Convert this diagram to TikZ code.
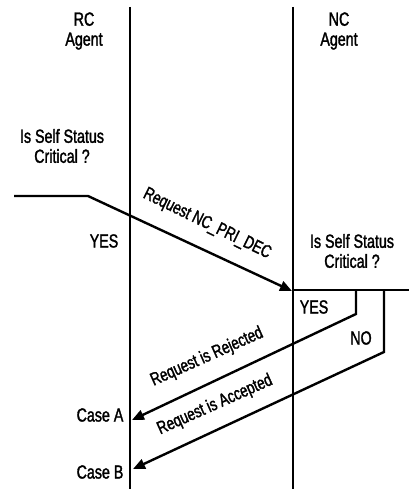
\documentclass[tikz,border=0pt]{standalone}
\usepackage{fontspec}
\setmainfont{Liberation Sans}[FakeStretch=0.75,FakeBold=1.6]
\usetikzlibrary{arrows.meta}
\begin{document}
\begin{tikzpicture}[x=1pt,y=-1pt,
  lifeline/.style={line width=1.8pt},
  msg/.style={line width=2.4pt},
  msgarrow/.style={msg,-{Triangle[length=12pt,width=10pt]}},
  lbl/.style={font=\fontsize{19}{20}\selectfont, inner sep=0pt, align=center},
  slbl/.style={font=\fontsize{18}{19}\selectfont, inner sep=0pt},
]
\useasboundingbox (0,0) rectangle (409,489);

% lifelines
\coordinate (rcTop) at (130,7);
\coordinate (rcBot) at (130,489);
\coordinate (ncTop) at (293,7);
\coordinate (ncBot) at (293,489);
\draw[lifeline] (rcTop) -- (rcBot);
\draw[lifeline] (ncTop) -- (ncBot);

% headers
\node[lbl] (rc) at (84,31) {RC\\Agent};
\node[lbl] (nc) at (339,31) {NC\\Agent};

% RC side decision
\node[lbl] (rcq) at (62,146) {Is Self Status\\Critical ?};
\node[lbl] (rcyes) at (104,241) {YES};
\coordinate (rcIn) at (14,196);
\coordinate (rcBend) at (88,196);
\coordinate (ncHit) at (292,291);
\draw[msgarrow] (rcIn) -- (rcBend) -- (ncHit);
\node[slbl, rotate=-26] (req) at (207,224) {Request NC\_PRI\_DEC};

% NC side decision
\node[lbl] (ncq) at (352,251) {Is Self Status\\Critical ?};
\coordinate (ncJoin) at (293,290);
\coordinate (ncOut) at (409,290);
\draw[msg] (ncJoin) -- (ncOut);
\node[lbl] (ncyes) at (314,307) {YES};
\node[lbl] (ncno) at (361,338) {NO};

% replies
\coordinate (yesTop) at (356,290);
\coordinate (yesBend) at (356,314);
\coordinate (caseAin) at (132,420);
\coordinate (noTop) at (384,290);
\coordinate (noBend) at (384,352);
\coordinate (caseBin) at (133,469);
\draw[msgarrow] (yesTop) -- (yesBend) -- (caseAin);
\draw[msgarrow] (noTop) -- (noBend) -- (caseBin);
\node[slbl, rotate=24] (rej) at (207,357) {Request is Rejected};
\node[slbl, rotate=24] (acc) at (215,405) {Request is Accepted};

% outcomes
\node[lbl] (caseA) at (100,415) {Case A};
\node[lbl] (caseB) at (100,472) {Case B};
\end{tikzpicture}
\end{document}
